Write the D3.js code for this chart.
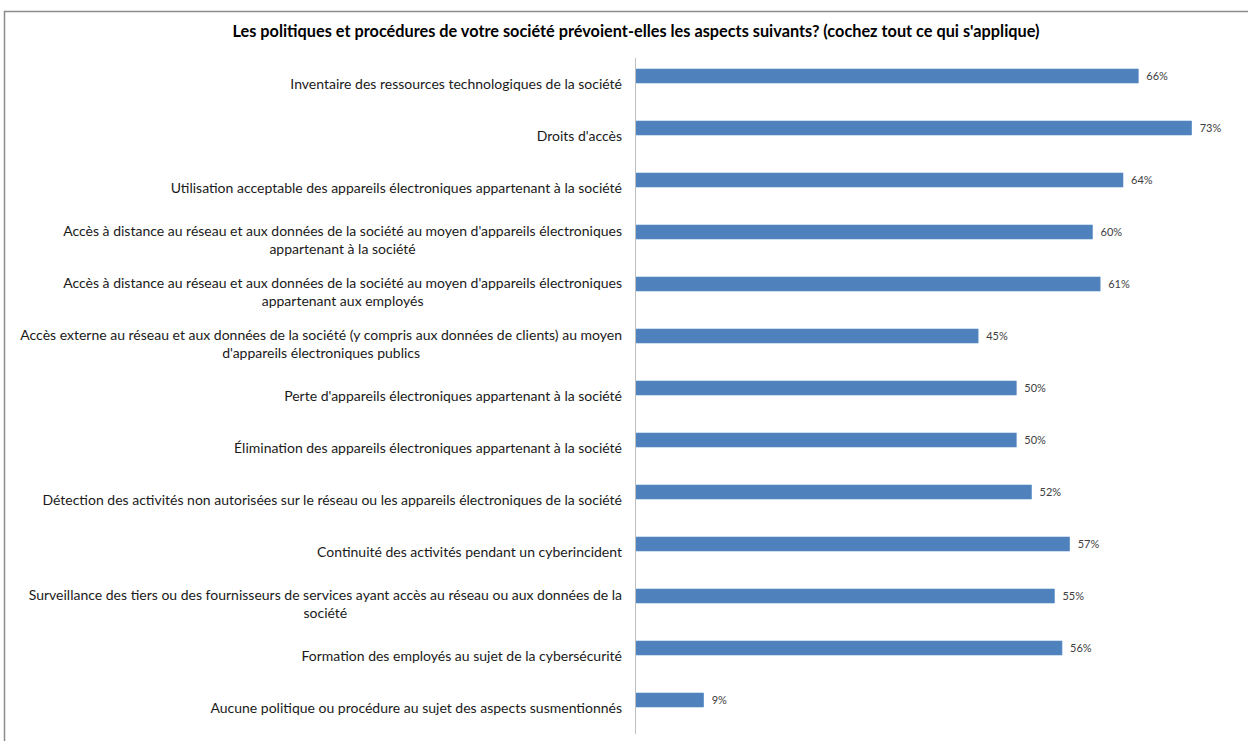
<!DOCTYPE html>
<html>
<head>
<meta charset="utf-8">
<script src="https://cdn.jsdelivr.net/npm/d3@7"></script>
<style>
  body { margin: 0; background: #fff; }
  svg { display: block; }
</style>
</head>
<body>
<svg id="chart" width="1248" height="741"></svg>
<script>
// chart data
const chartTitle = "Les politiques et procédures de votre société prévoient-elles les aspects suivants? (cochez tout ce qui s'applique)";
const categories = [
  ["Inventaire des ressources technologiques de la société"],
  ["Droits d'accès"],
  ["Utilisation acceptable des appareils électroniques appartenant à la société"],
  ["Accès à distance au réseau et aux données de la société au moyen d'appareils électroniques", "appartenant à la société"],
  ["Accès à distance au réseau et aux données de la société au moyen d'appareils électroniques", "appartenant aux employés"],
  ["Accès externe au réseau et aux données de la société (y compris aux données de clients) au moyen", "d'appareils électroniques publics"],
  ["Perte d'appareils électroniques appartenant à la société"],
  ["Élimination des appareils électroniques appartenant à la société"],
  ["Détection des activités non autorisées sur le réseau ou les appareils électroniques de la société"],
  ["Continuité des activités pendant un cyberincident"],
  ["Surveillance des tiers ou des fournisseurs de services ayant accès au réseau ou aux données de la", "société"],
  ["Formation des employés au sujet de la cybersécurité"],
  ["Aucune politique ou procédure au sujet des aspects susmentionnés"]
];
const values = [66, 73, 64, 60, 61, 45, 50, 50, 52, 57, 55, 56, 9];

const svg = d3.select("#chart");
const axisX = 635, plotTop = 58, plotBottom = 734;
const labelRight = 622;

// frame (cropped chart border)
svg.append("path")
  .attr("d", "M4.5,741 V11.5 H1248")
  .attr("fill", "none")
  .attr("stroke", "#8c8c8c")
  .attr("stroke-width", 1.5);

svg.append("text")
  .attr("x", 636).attr("y", 37)
  .attr("text-anchor", "middle")
  .attr("font-family", "Lato")
  .attr("font-weight", "bold")
  .attr("font-size", 16.3)
  .attr("fill", "#000")
  .text(chartTitle);

const idx = d3.range(categories.length);
const y = d3.scaleBand().domain(idx).range([plotTop, plotBottom]);
const x = d3.scaleLinear().domain([0, 80]).range([axisX, 1245]);

// bars sit above the category centre (Excel cluster offset)
const barH = 14;
svg.append("g").selectAll("rect")
  .data(idx)
  .join("rect")
  .attr("x", x(0) + 1)
  .attr("y", i => y(i) + y.bandwidth() / 2 - 15)
  .attr("width", i => x(values[i]) - x(0) - 1)
  .attr("height", barH)
  .attr("fill", "#4f81bd")
  .attr("stroke", "#5b8cc6")
  .attr("stroke-width", 0.6);

svg.append("g").selectAll("text")
  .data(idx)
  .join("text")
  .attr("x", i => x(values[i]) + 8)
  .attr("y", i => y(i) + y.bandwidth() / 2 - 8)
  .attr("dy", "0.35em")
  .attr("font-family", "Lato")
  .attr("font-size", 11)
  .attr("fill", "#404040")
  .text(i => values[i] + "%");

// category labels: wrapped lines centred on each other, block right aligned
const lab = svg.append("g")
  .attr("font-family", "Lato")
  .attr("font-size", 14)
  .attr("fill", "#1a1a1a");
idx.forEach(i => {
  const lines = categories[i];
  const cy = y(i) + y.bandwidth() / 2;
  const lh = 18;
  const t = lab.append("text").attr("text-anchor", "middle");
  const spans = lines.map((s, k) => t.append("tspan")
    .attr("y", cy + (k - (lines.length - 1) / 2) * lh)
    .attr("dy", "0.35em")
    .text(s));
  const w = d3.max(spans, s => s.node().getComputedTextLength());
  spans.forEach(s => s.attr("x", labelRight - w / 2));
});

// category axis line
svg.append("line")
  .attr("x1", axisX + 0.5).attr("x2", axisX + 0.5)
  .attr("y1", plotTop).attr("y2", plotBottom)
  .attr("stroke", "#bfbfbf")
  .attr("stroke-width", 1);
</script>
</body>
</html>
